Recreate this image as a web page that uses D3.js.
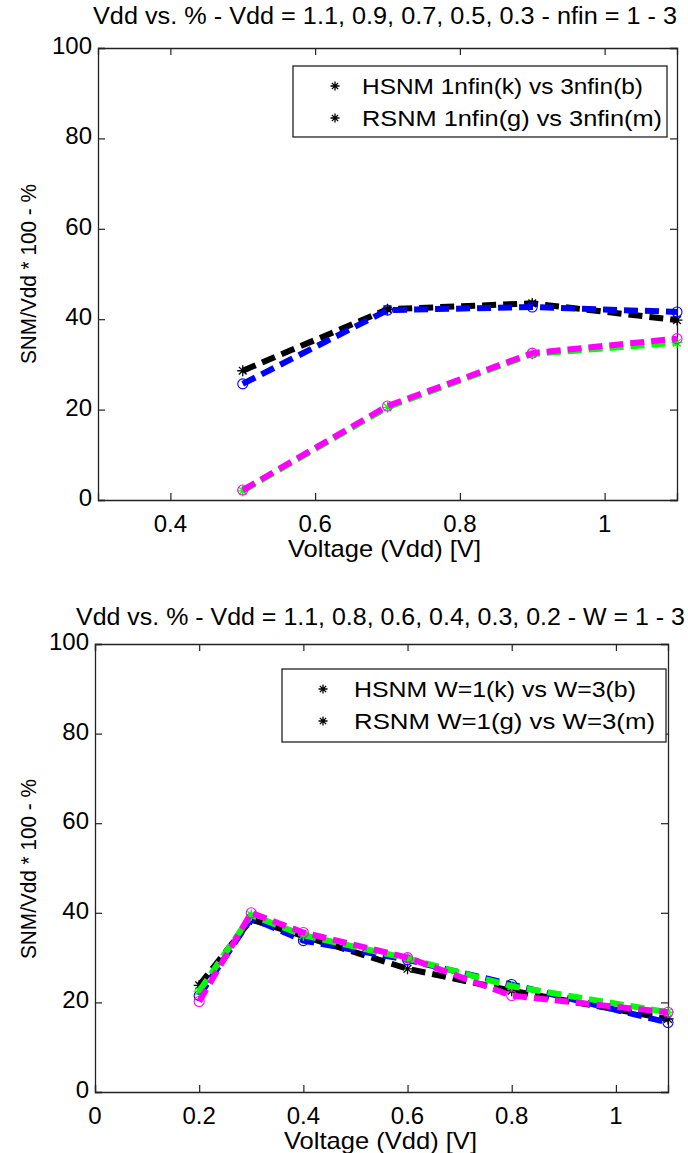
<!DOCTYPE html>
<html><head><meta charset="utf-8">
<script src="https://cdn.jsdelivr.net/npm/d3@7"></script>
<style>body{margin:0;background:#fff}svg{display:block}text{font-family:"Liberation Sans",Arial,sans-serif;fill:#000}</style>
</head><body>
<script>
// ---- data ----
const topX = [0.5, 0.7, 0.9, 1.1];
const topHSNM1 = [28.6, 42.2, 43.5, 39.8];   // black (k)
const topHSNM3 = [25.7, 42.0, 42.7, 41.6];   // blue (b)
const topRSNM1 = [2.0, 20.5, 32.3, 34.8];    // green (g)
const topRSNM3 = [2.2, 20.8, 32.5, 35.7];    // magenta (m)

const botX = [0.2, 0.3, 0.4, 0.6, 0.8, 1.1];
const botHSNM1 = [23.8, 38.5, 34.8, 27.5, 22.6, 16.3];
const botHSNM3 = [21.5, 38.8, 33.8, 29.5, 24.0, 15.5];
const botRSNM1 = [22.5, 39.5, 35.0, 29.8, 23.6, 17.8];
const botRSNM3 = [20.2, 40.0, 35.6, 30.0, 21.5, 17.8];

const topXTicks = [0.4, 0.6, 0.8, 1];
const botXTicks = [0, 0.2, 0.4, 0.6, 0.8, 1];
const yTicks = [0, 20, 40, 60, 80, 100];

const topTitle = "Vdd vs. % - Vdd = 1.1, 0.9, 0.7, 0.5, 0.3 - nfin = 1 - 3";
const botTitle = "Vdd vs. % - Vdd = 1.1, 0.8, 0.6, 0.4, 0.3, 0.2 - W = 1 - 3";
const topLegend = ["HSNM 1nfin(k) vs 3nfin(b)", "RSNM 1nfin(g) vs 3nfin(m)"];
const botLegend = ["HSNM W=1(k) vs W=3(b)", "RSNM W=1(g) vs W=3(m)"];
const xLabel = "Voltage (Vdd) [V]";
const yLabel = "SNM/Vdd * 100 - %";

const svg = d3.select("body").append("svg").attr("width", 688).attr("height", 1153);

function star(g, x, y, r, color) {
  const d = `M${x-r},${y}L${x+r},${y}M${x},${y-r}L${x},${y+r}` +
            `M${x-r*0.7},${y-r*0.7}L${x+r*0.7},${y+r*0.7}M${x-r*0.7},${y+r*0.7}L${x+r*0.7},${y-r*0.7}`;
  g.append("path").attr("d", d).attr("stroke", color).attr("stroke-width", 1.3).attr("fill", "none");
}

function panel(cfg) {
  const x = d3.scaleLinear().domain(cfg.xDomain).range([cfg.left, cfg.right]);
  const y = d3.scaleLinear().domain([0, 100]).range([cfg.bottom, cfg.top]);
  const g = svg.append("g");
  const axCol = "#222";

  const axB = d3.axisBottom(x).tickValues(cfg.xTicks).tickSize(-7).tickFormat("");
  const axT = d3.axisTop(x).tickValues(cfg.xTicks).tickSize(-7).tickFormat("");
  const axL = d3.axisLeft(y).tickValues(yTicks).tickSize(-7).tickFormat("");
  const axR = d3.axisRight(y).tickValues(yTicks).tickSize(-7).tickFormat("");
  [[axB, `translate(0,${cfg.bottom})`], [axT, `translate(0,${cfg.top})`],
   [axL, `translate(${cfg.left},0)`], [axR, `translate(${cfg.right},0)`]].forEach(([ax, tr]) => {
    const a = g.append("g").attr("transform", tr).call(ax);
    a.select(".domain").attr("stroke", axCol).attr("stroke-width", 1.3);
    a.selectAll(".tick line").attr("stroke", axCol).attr("stroke-width", 1.2);
  });

  g.selectAll(".xtl").data(cfg.xTicks).enter().append("text")
    .attr("x", d => x(d)).attr("y", cfg.bottom + 32).attr("text-anchor", "middle")
    .attr("font-size", 24).text(d => d3.format("~g")(d));
  g.selectAll(".ytl").data(yTicks).enter().append("text")
    .attr("x", cfg.left - 6).attr("y", d => y(d) + 6).attr("text-anchor", "end")
    .attr("font-size", 24).text(d => d);

  g.append("text").attr("x", cfg.titleX).attr("y", cfg.titleY).attr("font-size", 23)
    .attr("textLength", cfg.titleW).attr("lengthAdjust", "spacingAndGlyphs").text(cfg.title);
  g.append("text").attr("x", cfg.xlabX).attr("y", cfg.bottom + 57).attr("font-size", 24)
    .attr("textLength", 193).attr("lengthAdjust", "spacingAndGlyphs").text(xLabel);
  g.append("text").attr("transform", `translate(36,${cfg.ylabC}) rotate(-90)`).attr("text-anchor", "middle")
    .attr("font-size", 22).attr("textLength", 180).attr("lengthAdjust", "spacingAndGlyphs").text(yLabel);

  const series = [
    {v: cfg.s[0], c: "#000000", m: "star"},
    {v: cfg.s[1], c: "#0000ff", m: "circle"},
    {v: cfg.s[2], c: "#00ff00", m: "star"},
    {v: cfg.s[3], c: "#ff00ff", m: "circle"}
  ];
  const line = d3.line().x(d => x(d[0])).y(d => y(d[1]));
  series.forEach(s => {
    const pts = cfg.xs.map((xv, i) => [xv, s.v[i]]);
    g.append("path").attr("d", line(pts)).attr("fill", "none").attr("stroke", s.c)
      .attr("stroke-width", 6).attr("stroke-dasharray", "14,7");
    pts.forEach(p => {
      if (s.m === "star") star(g, x(p[0]), y(p[1]), 5.5, s.c);
      else g.append("circle").attr("cx", x(p[0])).attr("cy", y(p[1])).attr("r", 5)
        .attr("fill", "none").attr("stroke", s.c).attr("stroke-width", 1.1);
    });
  });

  const L = cfg.legend;
  g.append("rect").attr("x", L.x0).attr("y", L.y0).attr("width", L.x1 - L.x0).attr("height", L.y1 - L.y0)
    .attr("fill", "#fff").attr("stroke", axCol).attr("stroke-width", 1.3);
  cfg.legendText.forEach((t, i) => {
    const ry = L.rows[i];
    star(g, L.starX, ry, 4.5, "#000");
    g.append("text").attr("x", L.textX).attr("y", ry + 8).attr("font-size", 22)
      .attr("textLength", L.widths[i]).attr("lengthAdjust", "spacingAndGlyphs").text(t);
  });
}

panel({
  xDomain: [0.3, 1.1], left: 98, right: 677, top: 48, bottom: 500,
  xTicks: topXTicks, xs: topX, s: [topHSNM1, topHSNM3, topRSNM1, topRSNM3],
  title: topTitle, titleX: 93, titleY: 24, titleW: 584, xlabX: 288, ylabC: 274,
  legend: {x0: 293, x1: 667, y0: 66, y1: 137, rows: [86, 118], starX: 335, textX: 362, widths: [281, 300]},
  legendText: topLegend
});
panel({
  xDomain: [0, 1.1], left: 95, right: 668, top: 644, bottom: 1092,
  xTicks: botXTicks, xs: botX, s: [botHSNM1, botHSNM3, botRSNM1, botRSNM3],
  title: botTitle, titleX: 76, titleY: 625, titleW: 609, xlabX: 284, ylabC: 869,
  legend: {x0: 282, x1: 666, y0: 669, y1: 742, rows: [689, 721], starX: 323, textX: 354, widths: [282, 301]},
  legendText: botLegend
});
</script>
</body></html>
